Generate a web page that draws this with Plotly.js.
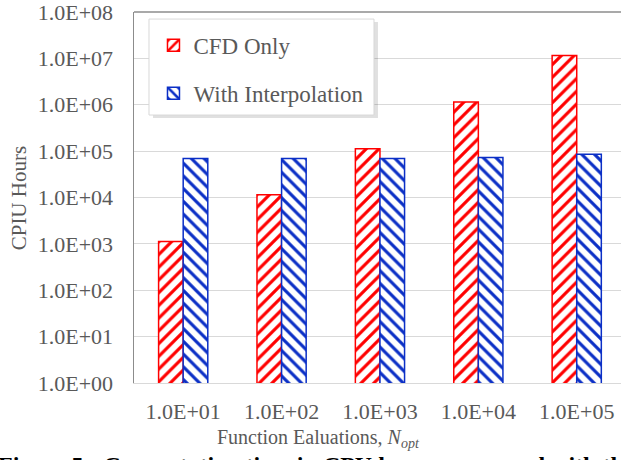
<!DOCTYPE html>
<html>
<head>
<meta charset="utf-8">
<script src="https://cdn.plot.ly/plotly-3.0.1.min.js"></script>
<style>html,body{margin:0;padding:0;background:#fff;overflow:hidden}</style>
</head>
<body>
<div id="chart" style="width:621px;height:460px"></div>
<script>
const categories = ["1.0E+01", "1.0E+02", "1.0E+03", "1.0E+04", "1.0E+05"];
const cfdOnly = [1130, 11400, 112000, 1140000, 11600000];
const withInterp = [69500, 69500, 69500, 73000, 86000];
const yTickVals = [1, 10, 100, 1000, 10000, 100000, 1000000, 10000000, 100000000];
const yTickText = ["1.0E+00", "1.0E+01", "1.0E+02", "1.0E+03", "1.0E+04", "1.0E+05", "1.0E+06", "1.0E+07", "1.0E+08"];

const serif = "Liberation Serif";
const gray = "#595959";
const red = "#ff0000";
const blue = "#0b2fc6";

const traces = [
  {
    type: "bar", name: "CFD Only", x: categories, y: cfdOnly, legendgroup: "a",
    marker: { color: red, line: { color: red, width: 1.5 },
      pattern: { shape: "/", fgcolor: red, bgcolor: "#ffffff", size: 9, solidity: 0.35 } }
  },
  {
    type: "bar", name: "With Interpolation", x: categories, y: withInterp, legendgroup: "b",
    marker: { color: blue, line: { color: blue, width: 1.5 },
      pattern: { shape: "\\", fgcolor: blue, bgcolor: "#ffffff", size: 9, solidity: 0.35 } }
  }
];

const layout = {
  width: 621, height: 460,
  margin: { l: 134, r: 0, t: 12, b: 77 },
  paper_bgcolor: "#ffffff", plot_bgcolor: "#ffffff",
  font: { family: serif, color: gray, size: 22 },
  barmode: "group", bargap: 0.5, bargroupgap: 0,
  showlegend: true,
  legend: {
    x: 0.04, y: 0.968, xanchor: "left", yanchor: "top",
    bgcolor: "rgba(0,0,0,0)", borderwidth: 0,
    font: { family: serif, color: gray, size: 23 },
    tracegroupgap: 15
  },
  xaxis: {
    type: "category", range: [-0.5, 4.45],
    showline: true, linecolor: "#d9d9d9", linewidth: 1,
    showgrid: false, ticks: "", ticklabelstandoff: 9, ticklabeloverflow: "allow",
    tickfont: { family: serif, color: gray, size: 22 }
  },
  yaxis: {
    type: "log", range: [0, 8],
    tickvals: yTickVals, ticktext: yTickText,
    showline: true, linecolor: "#8c8c8c", linewidth: 1.5,
    showgrid: true, gridcolor: "#d9d9d9", gridwidth: 1,
    zeroline: false, ticks: "", ticklabelstandoff: 15, ticklabeloverflow: "allow",
    tickfont: { family: serif, color: gray, size: 22 }
  },
  shapes: [
    { type: "line", xref: "paper", yref: "paper", x0: 0, x1: 1, y0: 1, y1: 1,
      line: { color: "#8c8c8c", width: 1.5 } },
    { type: "rect", xref: "paper", yref: "paper", x0: 0.0390, x1: 0.5010, y0: 0.7143, y1: 0.9730,
      line: { width: 0 }, fillcolor: "rgba(0,0,0,0.12)", layer: "above" },
    { type: "rect", xref: "paper", yref: "paper", x0: 0.0308, x1: 0.4928, y0: 0.7223, y1: 0.9810,
      line: { color: "#d9d9d9", width: 1 }, fillcolor: "#ffffff", layer: "above" }
  ],
  annotations: [
    { text: "CPIU Hours", textangle: -90, xref: "paper", yref: "paper",
      x: -0.236, y: 0.498, xanchor: "center", yanchor: "middle", showarrow: false,
      font: { family: serif, color: gray, size: 21 } },
    { text: "Function Ealuations, <i>N<sub>opt</sub></i>", xref: "paper", yref: "paper",
      x: 0.378, y: -0.149, xanchor: "center", yanchor: "middle", showarrow: false,
      font: { family: serif, color: gray, size: 20 } },
    { text: "<b>Figure 5:  Computation time in CPU hours compared with the</b>", xref: "paper", yref: "paper",
      x: -0.283, y: -0.18, xanchor: "left", yanchor: "top", showarrow: false,
      font: { family: serif, color: "#000000", size: 24 } }
  ]
};

Plotly.newPlot("chart", traces, layout, { displayModeBar: false, staticPlot: true });
</script>
</body>
</html>
